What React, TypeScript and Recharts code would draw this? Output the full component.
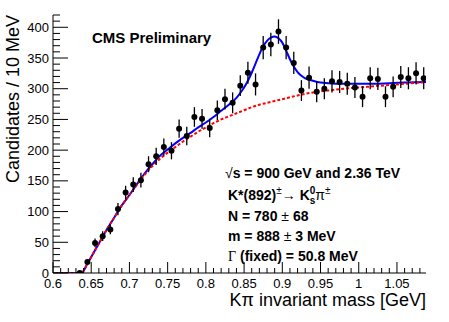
import React from 'react'
import { ComposedChart, Line, Scatter, ErrorBar, XAxis, YAxis } from 'recharts'

const FONT = '"Liberation Sans", Arial, Helvetica, sans-serif'

// histogram bins (bin centres, GeV) and entries
const massBins = [0.635, 0.645, 0.655, 0.665, 0.675, 0.685, 0.695, 0.705, 0.715, 0.725, 0.735, 0.745, 0.755, 0.765, 0.775, 0.785, 0.795, 0.805, 0.815, 0.825, 0.835, 0.845, 0.855, 0.865, 0.875, 0.885, 0.895, 0.905, 0.915, 0.925, 0.935, 0.945, 0.955, 0.965, 0.975, 0.985, 0.995, 1.005, 1.015, 1.025, 1.035, 1.045, 1.055, 1.065, 1.075, 1.085]
const candidates = [0, 18, 49, 60, 71, 104, 131, 144, 151, 177, 190, 205, 199, 235, 223, 254, 251, 236, 265, 283, 277, 305, 326, 307, 367, 372, 393, 367, 342, 297, 318, 295, 300, 312, 311, 308, 302, 287, 317, 316, 287, 303, 319, 317, 325, 317]
const candErr = [0, 4, 7, 8, 8, 10, 11, 12, 12, 13, 14, 14, 14, 15, 15, 16, 16, 15, 16, 17, 17, 17, 18, 18, 19, 19, 20, 19, 18, 17, 18, 17, 17, 18, 18, 18, 17, 17, 18, 18, 17, 17, 18, 18, 18, 18]

// total fit (blue)
const fitMass = [0.6, 0.637, 0.645, 0.65, 0.66, 0.67, 0.68, 0.69, 0.7, 0.71, 0.72, 0.73, 0.74, 0.75, 0.76, 0.77, 0.78, 0.79, 0.8, 0.81, 0.82, 0.83, 0.84, 0.845, 0.85, 0.855, 0.86, 0.865, 0.87, 0.875, 0.88, 0.885, 0.89, 0.895, 0.9, 0.905, 0.91, 0.915, 0.92, 0.925, 0.93, 0.94, 0.95, 0.96, 0.98, 1.0, 1.02, 1.04, 1.06, 1.088]
const fitTotal = [0, 0, 15, 26, 48, 70, 90, 110, 127, 145, 162, 177, 191, 201, 211, 220, 228, 237, 245, 254, 264, 274, 285, 293, 302, 313, 326, 341, 356, 369, 378, 383, 385, 382, 375, 362, 348, 336, 327, 321, 317, 313, 310, 309, 308, 308, 308, 309, 310, 311]

// background only (red dashed)
const bgMass = [0.6, 0.637, 0.645, 0.65, 0.66, 0.67, 0.68, 0.69, 0.7, 0.71, 0.72, 0.73, 0.74, 0.75, 0.76, 0.77, 0.78, 0.79, 0.8, 0.81, 0.82, 0.83, 0.84, 0.85, 0.86, 0.87, 0.88, 0.89, 0.9, 0.92, 0.94, 0.96, 0.98, 1.0, 1.02, 1.04, 1.06, 1.088]
const bgOnly = [0, 0, 15, 26, 48, 70, 90, 110, 127, 144, 160, 174, 186, 196, 205, 214, 222, 230, 237, 244, 250, 255, 260, 265, 270, 274, 277, 280, 283, 289, 294, 297, 300, 302, 304, 306, 308, 311]

const xTicks = [0.6, 0.61, 0.62, 0.63, 0.64, 0.65, 0.66, 0.67, 0.68, 0.69, 0.7, 0.71, 0.72, 0.73, 0.74, 0.75, 0.76, 0.77, 0.78, 0.79, 0.8, 0.81, 0.82, 0.83, 0.84, 0.85, 0.86, 0.87, 0.88, 0.89, 0.9, 0.91, 0.92, 0.93, 0.94, 0.95, 0.96, 0.97, 0.98, 0.99, 1, 1.01, 1.02, 1.03, 1.04, 1.05, 1.06, 1.07, 1.08]
const xLabels = ['0.6', '0.65', '0.7', '0.75', '0.8', '0.85', '0.9', '0.95', '1', '1.05']
const yTicks = [0, 10, 20, 30, 40, 50, 60, 70, 80, 90, 100, 110, 120, 130, 140, 150, 160, 170, 180, 190, 200, 210, 220, 230, 240, 250, 260, 270, 280, 290, 300, 310, 320, 330, 340, 350, 360, 370, 380, 390, 400, 410, 420]
const yLabels = ['0', '50', '100', '150', '200', '250', '300', '350', '400']

const points = massBins.map((x, i) => ({ x, y: candidates[i], err: candErr[i] }))
const fitData = fitMass.map((x, i) => ({ x, y: fitTotal[i] }))
const bgData = bgMass.map((x, i) => ({ x, y: bgOnly[i] }))

const X_DOMAIN = [0.6, 1.088]
const Y_DOMAIN = [0, 420]

const isMajorX = (v: number) => xLabels.includes(String(v))
const isMajorY = (v: number) => yLabels.includes(String(v))

function BottomTick({ x, y, payload }: any) {
  const major = isMajorX(payload.value)
  return (
    <g>
      <line x1={x} x2={x} y1={y} y2={y - (major ? 11 : 5)} stroke="#000" />
      {major && <text x={x} y={y + 15} textAnchor="middle" fontSize={13} fontFamily={FONT} fill="#000">{String(payload.value)}</text>}
    </g>
  )
}

function TopTick({ x, y, payload }: any) {
  const major = isMajorX(payload.value)
  return <line x1={x} x2={x} y1={y} y2={y + (major ? 11 : 5)} stroke="#000" />
}

function LeftTick({ x, y, payload }: any) {
  const major = isMajorY(payload.value)
  return (
    <g>
      <line x1={x} x2={x + (major ? 15 : 7)} y1={y} y2={y} stroke="#000" />
      {major && <text x={x - 4} y={y + 4.6} textAnchor="end" fontSize={13} fontFamily={FONT} fill="#000">{String(payload.value)}</text>}
    </g>
  )
}

function RightTick({ x, y, payload }: any) {
  const major = isMajorY(payload.value)
  return <line x1={x} x2={x - (major ? 14 : 6)} y1={y} y2={y} stroke="#000" />
}

const dot = (p: any) => <circle cx={p.cx} cy={p.cy} r={3} fill="#000" />

export default function App() {
  return (
    <div style={{ position: 'absolute', left: 0, top: 0, background: '#fff' }}>
      <ComposedChart width={449} height={322} margin={{ top: 15, right: 23, bottom: 0, left: 0 }}>
        <XAxis dataKey="x" type="number" domain={X_DOMAIN} allowDataOverflow ticks={xTicks} interval={0}
          tickSize={0} tickMargin={0} tick={<BottomTick />} tickLine={false} axisLine={{ stroke: '#000' }} height={49} />
        <XAxis xAxisId="top" orientation="top" dataKey="x" type="number" domain={X_DOMAIN} allowDataOverflow ticks={xTicks} interval={0}
          tickSize={0} tickMargin={0} tick={<TopTick />} tickLine={false} axisLine={{ stroke: '#000' }} height={0} />
        <YAxis type="number" domain={Y_DOMAIN} allowDataOverflow ticks={yTicks} interval={0}
          tickSize={0} tickMargin={0} tick={<LeftTick />} tickLine={false} axisLine={{ stroke: '#000' }} width={53} />
        <YAxis yAxisId="right" orientation="right" type="number" domain={Y_DOMAIN} allowDataOverflow ticks={yTicks} interval={0}
          tickSize={0} tickMargin={0} tick={<RightTick />} tickLine={false} axisLine={{ stroke: '#000' }} width={0} />

        <Line data={fitData} dataKey="y" type="monotone" stroke="#0000ff" strokeWidth={2} dot={false} activeDot={false} isAnimationActive={false} />
        <Line data={bgData} dataKey="y" type="monotone" stroke="#ff0000" strokeWidth={2} strokeDasharray="3 2" dot={false} activeDot={false} isAnimationActive={false} />
        <Scatter data={points} dataKey="y" shape={dot} isAnimationActive={false}>
          <ErrorBar dataKey="err" direction="y" width={0} stroke="#000" strokeWidth={1.3} />
        </Scatter>

        <text transform="translate(19,15) rotate(-90)" textAnchor="end" fontSize={18} fontFamily={FONT} fill="#000">Candidates / 10 MeV</text>
        <text x={426} y={306} textAnchor="end" fontSize={18} fontFamily={FONT} fill="#000">Kπ invariant mass [GeV]</text>
        <text x={92} y={43} fontSize={15} fontWeight="bold" fontFamily={FONT} fill="#000">CMS Preliminary</text>

        <g fontSize={14} fontWeight="bold" fontFamily={FONT} fill="#000" style={{ whiteSpace: 'pre' }}>
          <text x={225} y={178}><tspan fontWeight="normal">√</tspan>s = 900 GeV and 2.36 TeV</text>
          <text x={228} y={199.5}>
            K*(892)<tspan fontSize={10} fontWeight="normal" dy={-6}>±</tspan>
            <tspan fontWeight="normal" dy={6}>→ </tspan>
            <tspan>K</tspan>
            <tspan fontSize={10} dy={4}>s</tspan>
            <tspan fontSize={10} dx={-5.6} dy={-10}>0</tspan>
            <tspan fontWeight="normal" dy={6}>π</tspan>
            <tspan fontSize={10} fontWeight="normal" dy={-6}>±</tspan>
          </text>
          <text x={228} y={221}>N = 780  <tspan fontWeight="normal">±</tspan> 68</text>
          <text x={228} y={241}>m = 888 <tspan fontWeight="normal">±</tspan> 3 MeV</text>
          <text x={228} y={261}><tspan fontWeight="normal" fontFamily='"Liberation Serif", serif'>Γ</tspan> (fixed) = 50.8 MeV</text>
        </g>
      </ComposedChart>
    </div>
  )
}
